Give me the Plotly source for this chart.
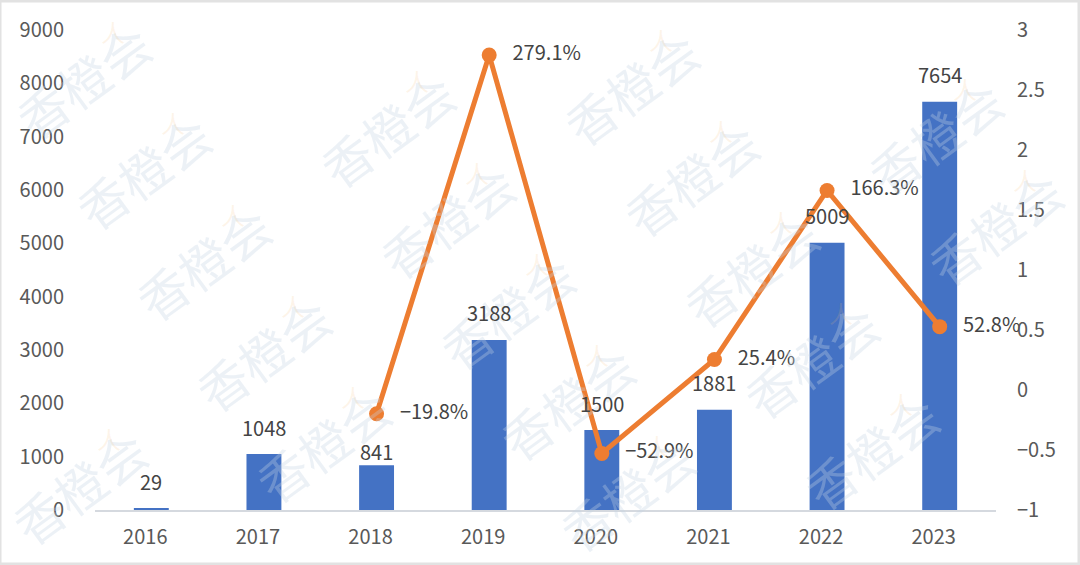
import plotly.graph_objects as go

years = ["2016", "2017", "2018", "2019", "2020", "2021", "2022", "2023"]
amounts = [29, 1048, 841, 3188, 1500, 1881, 5009, 7654]
growth_years = ["2018", "2019", "2020", "2021", "2022", "2023"]
growth = [-0.198, 2.791, -0.529, 0.254, 1.663, 0.528]
growth_labels = ["−19.8%", "279.1%", "−52.9%", "25.4%", "166.3%", "52.8%"]
left_ticks = [0, 1000, 2000, 3000, 4000, 5000, 6000, 7000, 8000, 9000]
right_ticks = [-1, -0.5, 0, 0.5, 1, 1.5, 2, 2.5, 3]
right_tick_text = ["−1", "−0.5", "0", "0.5", "1", "1.5", "2", "2.5", "3"]
watermark_text = "香橙会"

FONT = "Noto Sans CJK SC"
TEXT = "#444444"
TICK = "#595959"

W, H = 1080, 565
L, R, T, B = 95, 84, 30, 55
PW, PH = W - L - R, H - T - B


def paper_x(px):
    return (px - L) / PW


def paper_y(py):
    return 1 - (py - T) / PH


fig = go.Figure()
fig.add_trace(go.Bar(
    x=years, y=amounts, width=0.31, marker=dict(color="#4472C4", line_width=0),
    yaxis="y", showlegend=False,
))
fig.add_trace(go.Scatter(
    x=growth_years, y=growth, yaxis="y2", mode="lines+markers+text",
    line=dict(color="#ED7D31", width=5), marker=dict(color="#ED7D31", size=15),
    text=["  \u2009" + t for t in growth_labels], textposition="middle right",
    textfont=dict(family=FONT, size=20, color=TEXT), cliponaxis=False, showlegend=False,
))

annotations = []
# faint rotated watermark grid (text plus a small pale orange mark), in page pixels
for row in range(-1, 7):
    for col in range(-1, 5):
        px = 83 + col * 244 + row * 60
        py = 80 - col * 42 + row * 91
        if 60 < px < W - 60 and 45 < py < H - 45:
            annotations.append(dict(
                x=paper_x(px), y=paper_y(py), xref="paper", yref="paper", showarrow=False,
                xanchor="center", yanchor="middle",
                text=watermark_text, textangle=-36,
                font=dict(family=FONT, size=50, color="rgba(195,210,228,0.32)"),
            ))
            annotations.append(dict(
                x=paper_x(px + 30), y=paper_y(py - 48), xref="paper", yref="paper", showarrow=False,
                xanchor="center", yanchor="middle",
                text="人", font=dict(family=FONT, size=24, color="rgba(245,190,120,0.16)"),
            ))

# bar value labels
for i, (year, value) in enumerate(zip(years, amounts)):
    annotations.append(dict(
        x=i, y=value, xref="x", yref="y", showarrow=False, yanchor="middle", xanchor="center",
        yshift=14 if year == "2018" else 27, text=str(value),
        font=dict(family=FONT, size=20, color=TEXT),
    ))

fig.update_layout(
    width=W, height=H, autosize=False,
    margin=dict(l=L, r=R, t=T, b=B),
    paper_bgcolor="white", plot_bgcolor="rgba(0,0,0,0)",
    bargap=0.69, annotations=annotations,
    font=dict(family=FONT, color=TICK),
    xaxis=dict(type="category", categoryorder="array", categoryarray=years,
               range=[-0.5, len(years) - 0.5],
               showgrid=False, showline=True, linecolor="#D5D9DF", linewidth=1.5,
               ticks="", tickfont=dict(family=FONT, size=20, color=TICK),
               ticklabelstandoff=8, ticklabelshift=-6),
    yaxis=dict(range=[0, 9000], tickvals=left_ticks, showgrid=False, zeroline=False,
               ticks="", tickfont=dict(family=FONT, size=20, color=TICK), ticklabelstandoff=30),
    yaxis2=dict(range=[-1, 3], tickvals=right_ticks, ticktext=right_tick_text, overlaying="y",
                side="right", showgrid=False, zeroline=False, ticks="",
                tickfont=dict(family=FONT, size=20, color=TICK), ticklabelstandoff=20),
    shapes=[dict(type="rect", xref="paper", yref="paper",
                 x0=paper_x(0), x1=paper_x(W - 1), y0=paper_y(H - 1), y1=paper_y(1),
                 line=dict(color="#E2E2E2", width=3))],
)
fig.write_html("out.html", config={"displayModeBar": False},
               post_script="document.body.style.margin='0';document.body.style.overflow='hidden';")
